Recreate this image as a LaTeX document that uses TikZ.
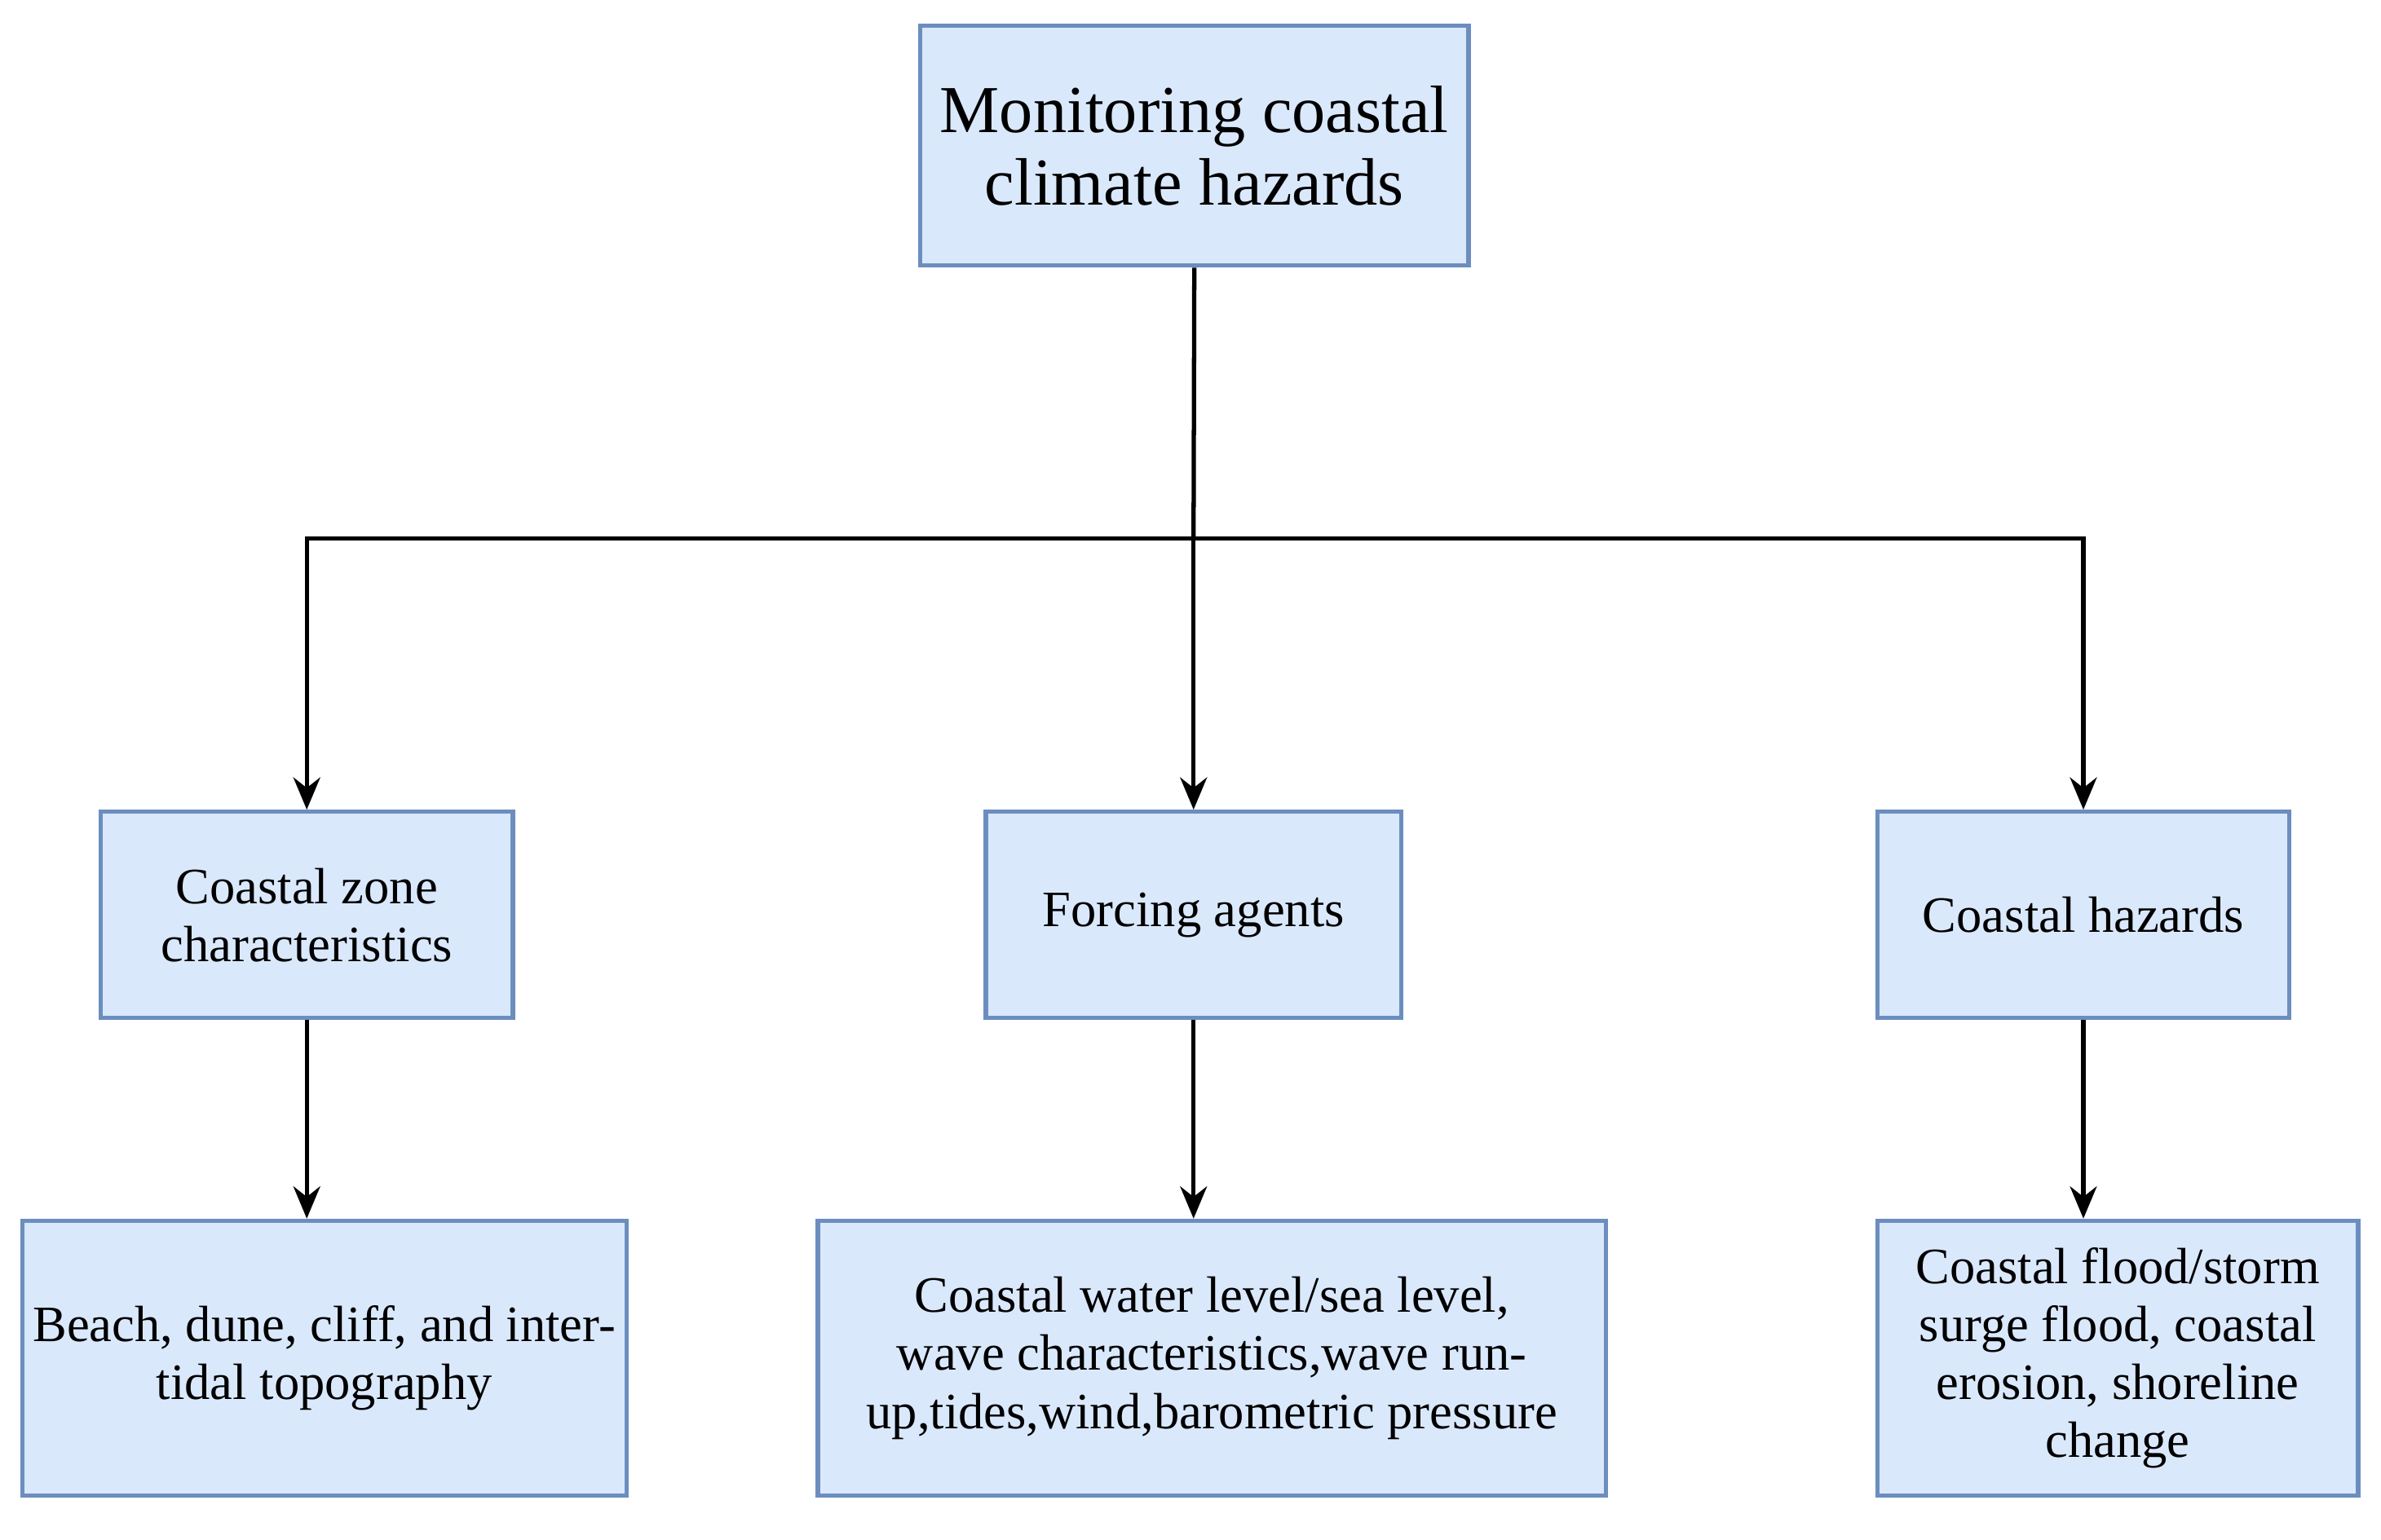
\documentclass[tikz,border=0pt]{standalone}
\usepackage{fontspec}
\setmainfont{Liberation Serif}
\usetikzlibrary{positioning,arrows.meta}
\definecolor{boxfill}{HTML}{DAE8FC}
\definecolor{boxline}{HTML}{6C8EBF}
\tikzset{>={Stealth[length=6pt,width=5pt]}}
\begin{document}
\begin{tikzpicture}[x=0.01cm,y=-0.01cm,
  box/.style={draw=boxline, fill=boxfill, thick, align=center, inner sep=2pt, font=\fontsize{9.5}{10.8}\selectfont},
  line/.style={thick}]
\useasboundingbox (0,0) rectangle (1560,1008.7);
\node[box, minimum width=3.59cm, minimum height=1.57cm, font=\fontsize{12.5}{13.6}\selectfont] (top) at (782.5,95.5) {Monitoring coastal\\climate hazards};
%%%%
\node[box, minimum width=2.70cm, minimum height=1.35cm] (zone) at (201,599.5) {Coastal zone\\characteristics};
\node[box, minimum width=2.72cm, minimum height=1.35cm] (force) at (782,599.5) {Forcing agents};
\node[box, minimum width=2.70cm, minimum height=1.35cm] (haz) at (1365,599.5) {Coastal hazards};
%%%%
\node[box, minimum width=3.81cm, minimum height=1.80cm] (beach) at (212.5,890) {Beach, dune, cliff, and inter-\\tidal topography};
\node[box, minimum width=5.16cm, minimum height=1.80cm] (water) at (794,890) {Coastal water level/sea level,\\wave characteristics,wave run-\\up,tides,wind,barometric pressure};
\node[box, minimum width=3.15cm, minimum height=1.80cm] (flood) at (1387.5,890) {Coastal flood/storm\\surge flood, coastal\\erosion, shoreline\\change};
%%%%
\coordinate (split) at (782,353);
\draw[line] (top.south) -- (split);
\draw[line,->] (split) -| (zone.north);
\draw[line,->] (split) -| (haz.north);
\draw[line,->] (split) -- (force.north);
\draw[line,->] (zone.south) -- (zone.south |- beach.north);
\draw[line,->] (force.south) -- (force.south |- water.north);
\draw[line,->] (haz.south) -- (haz.south |- flood.north);
\end{tikzpicture}
\end{document}
